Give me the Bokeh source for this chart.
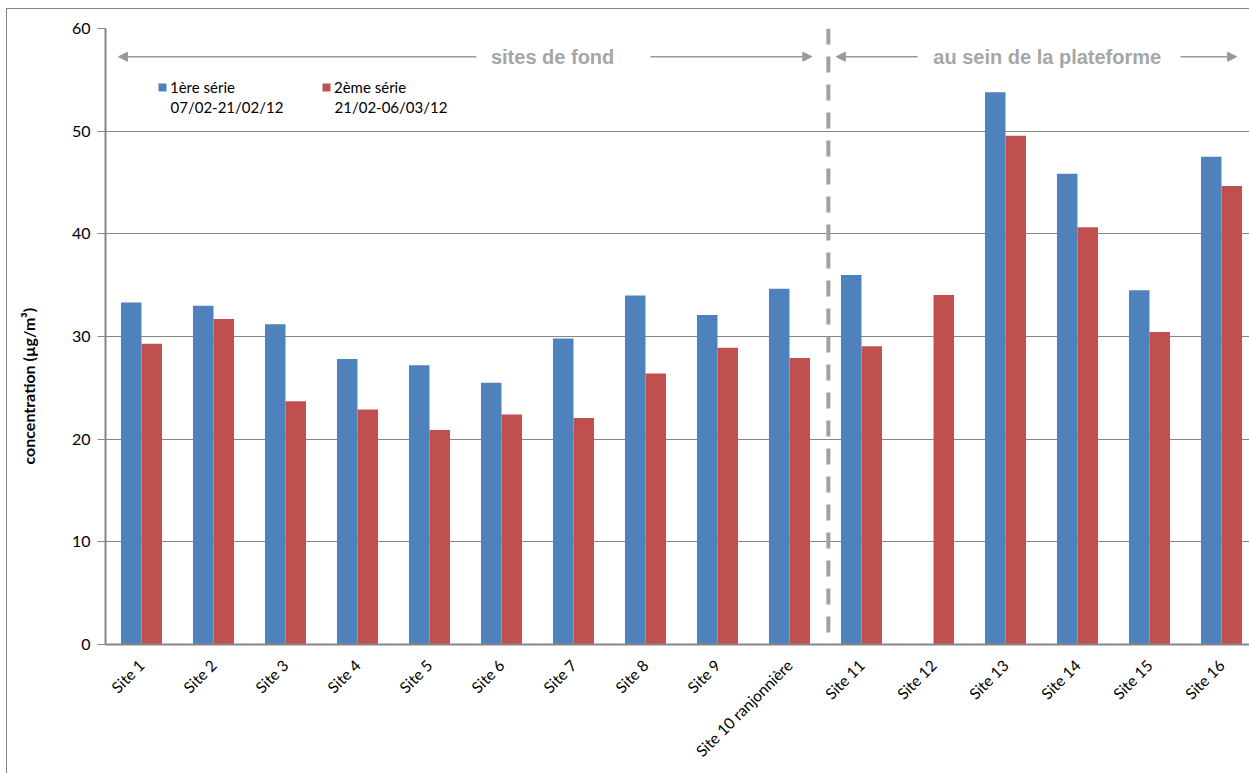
import math
import numpy as np
from bokeh.plotting import figure
from bokeh.models import (ColumnDataSource, Range1d, FixedTicker, Span, Arrow, NormalHead,
                          Label, Legend, LegendItem, LinearAxis, Title)
from bokeh.embed import file_html
from bokeh.resources import INLINE

# ---- data ----
sites = ["Site 1", "Site 2", "Site 3", "Site 4", "Site 5", "Site 6", "Site 7", "Site 8",
         "Site 9", "Site 10 ranjonnière", "Site 11", "Site 12", "Site 13", "Site 14",
         "Site 15", "Site 16"]
serie1 = [33.3, 33.0, 31.2, 27.8, 27.2, 25.5, 29.8, 34.0, 32.1, 34.65, 36.0, float("nan"),
          53.8, 45.85, 34.5, 47.5]
serie2 = [29.3, 31.7, 23.7, 22.9, 20.9, 22.4, 22.05, 26.4, 28.9, 27.9, 29.05, 34.05,
          49.55, 40.65, 30.45, 44.65]
serie_names = ["1ère série", "2ème série"]
serie_periods = ["07/02-21/02/12", "21/02-06/03/12"]
y_ticks = [0, 10, 20, 30, 40, 50, 60]
group_labels = ["sites de fond", "au sein de la plateforme"]
y_title = "concentration (µg/m³)"

BLUE = "#4F81BD"
RED = "#C0504D"
GRID = "#868686"
ANNOT = "#A6A6A6"

n = len(sites)
centers = np.arange(n) + 0.5
bw = 0.285
src = ColumnDataSource(dict(x1=centers - bw / 2, x2=centers + bw / 2, s1=serie1, s2=serie2))

W, H = 1243, 765
left, top, bottom = 98, 19, 130
frame_w = W - left
frame_h = H - top - bottom
cat_px = 72.0
ypx = frame_h / 60.0

p = figure(width=W, height=H, output_backend="svg", toolbar_location=None,
           x_range=Range1d(0, frame_w / cat_px), y_range=Range1d(0, 60),
           min_border_left=left, min_border_right=0, min_border_top=top,
           min_border_bottom=bottom)
p.margin = (8, 0, 0, 6)
p.styles = {"border-left": "1px solid #868686", "border-top": "1px solid #868686",
            "box-sizing": "border-box"}
p.outline_line_color = None
p.background_fill_color = "white"
p.border_fill_color = "white"

r1 = p.vbar(x="x1", top="s1", width=bw, source=src, fill_color=BLUE, line_color=None)
r2 = p.vbar(x="x2", top="s2", width=bw, source=src, fill_color=RED, line_color=None)

# axes
p.xgrid.visible = False
p.ygrid.grid_line_color = GRID
p.ygrid.grid_line_width = 1
p.yaxis.ticker = FixedTicker(ticks=y_ticks)
p.yaxis.axis_line_color = GRID
p.yaxis.axis_line_width = 2
p.yaxis.major_tick_line_color = GRID
p.yaxis.major_tick_out = 8
p.yaxis.major_tick_in = 0
p.yaxis.minor_tick_line_color = None
p.yaxis.major_label_text_font = "Lato"
p.yaxis.major_label_text_font_size = "16px"
p.yaxis.major_label_text_color = "#000000"
p.yaxis.major_label_standoff = 7

p.xaxis.ticker = FixedTicker(ticks=list(centers))
p.xaxis.major_label_overrides = {float(c): s for c, s in zip(centers, sites)}
p.xaxis.major_label_orientation = math.pi / 4
p.xaxis.axis_line_color = GRID
p.xaxis.axis_line_width = 2
p.xaxis.major_tick_line_color = None
p.xaxis.minor_tick_line_color = None
p.xaxis.major_label_text_font = "Lato"
p.xaxis.major_label_text_font_size = "15.5px"
p.xaxis.major_label_text_color = "#000000"
p.xaxis.major_label_standoff = 12

# blank spacer axis (invisible), then the y title placed off-centre like the original
spacer = LinearAxis(ticker=FixedTicker(ticks=[30]), major_label_overrides={30: ""},
                    axis_line_color=None, major_tick_line_color=None,
                    minor_tick_line_color=None, major_tick_out=29, major_tick_in=0,
                    minor_tick_out=0, minor_tick_in=0, major_label_standoff=5)
p.add_layout(spacer, "left")
p.add_layout(Title(text=y_title, align="left", offset=180, standoff=4,
                   text_font="Lato", text_font_style="bold", text_font_size="16px",
                   text_color="#000000"), "left")

# separator
p.add_layout(Span(location=10.04, dimension="height", line_color="#A0A0A0",
                  line_width=4, line_dash="16 12"))

# group annotations
ay = 57.25
head = dict(size=9, fill_color="#999999", line_color="#999999")
for xs, xe in [(5.15, 0.18), (7.57, 9.81), (11.28, 10.15), (14.93, 15.71)]:
    p.add_layout(Arrow(x_start=xs, y_start=ay, x_end=xe, y_end=ay, line_color="#999999",
                       line_width=1.5, end=NormalHead(**head)))
for xc, t in zip([6.21, 13.08], group_labels):
    p.add_layout(Label(x=xc, y=ay, text=t, text_align="center", text_baseline="middle",
                       text_font="Liberation Sans", text_font_style="bold",
                       text_font_size="20px", text_color=ANNOT))

# legend (two blocks, square aligned with first line; period line below)
leg_x_px = [157 - 105, 321 - 105]
for r, name, per, lx in zip([r1, r2], serie_names, serie_periods, leg_x_px):
    lg = Legend(items=[LegendItem(label=name, renderers=[r])],
                location=(lx, frame_h - (95 - 27)), padding=0, margin=0,
                border_line_color=None, background_fill_alpha=0,
                glyph_width=10, glyph_height=10, label_standoff=3,
                label_height=18, label_text_font="Lato", label_text_font_size="15px",
                label_text_color="#000000")
    p.add_layout(lg)
    p.add_layout(Label(x=(lx + 13) / cat_px, y=60 - (105.5 - 27) / ypx, text=per,
                       text_align="left", text_baseline="middle", text_font="Lato",
                       text_font_size="15px", text_color="#000000"))

open("out.html", "w").write(file_html(p, INLINE))
